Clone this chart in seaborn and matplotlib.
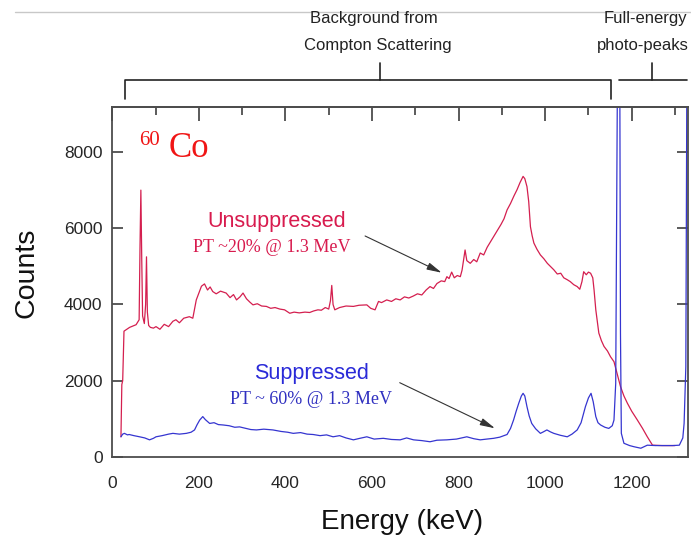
import numpy as np
import pandas as pd
import matplotlib
matplotlib.use("Agg")
import matplotlib.pyplot as plt
from matplotlib.ticker import MultipleLocator
from matplotlib.lines import Line2D
import seaborn as sns

sns.set_style("white")
plt.rcParams['font.family'] = ['Liberation Sans', 'DejaVu Sans']

# Unsuppressed spectrum (energy in keV, counts)
energy_unsup = [20, 22, 24, 27, 40, 55, 62, 64, 66, 68, 70, 74, 77, 79, 81, 84, 88, 95,
                101, 110, 120, 130, 140, 147, 155, 165, 178, 186, 194, 200, 206, 213, 220,
                226, 232, 240, 250, 263, 272, 280, 287, 295, 302, 310, 318, 325, 335, 345,
                356, 366, 376, 387, 398, 410, 420, 432, 445, 456, 465, 475, 483, 492, 500,
                504, 507, 510, 514, 525, 540, 557, 570, 588, 597, 607, 615, 622, 634, 645,
                655, 665, 675, 685, 695, 705, 715, 725, 734, 742, 750, 760, 768, 773, 778,
                784, 790, 797, 804, 808, 812, 815, 819, 827, 835, 842, 850, 858, 866, 874,
                881, 890, 898, 905, 912, 920, 928, 935, 942, 949, 953, 958, 962, 966, 970,
                974, 981, 989, 997, 1005, 1012, 1020, 1028, 1036, 1043, 1051, 1058, 1066,
                1074, 1080, 1085, 1089, 1095, 1100, 1105, 1110, 1113, 1117, 1124, 1130,
                1136, 1144, 1151, 1159, 1174, 1182, 1190, 1200, 1213, 1225, 1236, 1242,
                1248, 1270, 1300]
counts_unsup = [530, 1900, 2000, 3300, 3400, 3470, 3600, 5500, 7000, 5200, 3700, 3500, 4000,
                5250, 3800, 3450, 3400, 3380, 3420, 3350, 3480, 3420, 3560, 3600, 3520, 3640,
                3680, 3640, 4120, 4300, 4480, 4540, 4380, 4460, 4340, 4280, 4350, 4300, 4180,
                4260, 4120, 4200, 4300, 4150, 4060, 3990, 4020, 3960, 3950, 3900, 3920, 3880,
                3860, 3770, 3800, 3780, 3800, 3790, 3830, 3860, 3850, 3920, 3880, 4100, 4500,
                4000, 3860, 3920, 3960, 3950, 3980, 3990, 3900, 3860, 4080, 4050, 4120, 4080,
                4150, 4120, 4200, 4170, 4220, 4280, 4250, 4380, 4470, 4420, 4550, 4620, 4600,
                4730, 4680, 4850, 4700, 4760, 4730, 4900, 5200, 5430, 5150, 5080, 5180, 5120,
                5350, 5300, 5500, 5650, 5780, 5950, 6100, 6250, 6480, 6650, 6850, 7010, 7200,
                7360, 7300, 7090, 6700, 6040, 5800, 5610, 5450, 5300, 5200, 5080, 5000, 4910,
                4800, 4820, 4700, 4650, 4600, 4520, 4470, 4400, 4600, 4860, 4780, 4850, 4820,
                4700, 4380, 3860, 3250, 3050, 2900, 2780, 2630, 2500, 1850, 1600, 1410, 1200,
                970, 750, 530, 420, 310, 300, 300]

# Suppressed spectrum
energy_sup = [20, 24, 28, 35, 39, 50, 63, 75, 86, 95, 101, 115, 130, 140, 155, 171, 182, 190,
              196, 202, 209, 215, 225, 235, 245, 256, 270, 283, 294, 305, 320, 333, 350, 371,
              390, 405, 418, 435, 450, 464, 480, 495, 510, 525, 540, 557, 572, 588, 605, 626,
              645, 665, 680, 696, 715, 734, 750, 773, 795, 819, 835, 850, 865, 881, 895, 912,
              920, 927, 933, 939, 945, 949, 953, 958, 963, 969, 978, 989, 996, 1004, 1012,
              1020, 1035, 1051, 1062, 1074, 1083, 1093, 1100, 1106, 1111, 1117, 1122, 1128,
              1138, 1147, 1155, 1159, 1163, 1166, 1168, 1172, 1174, 1176, 1182, 1195, 1205,
              1221, 1236, 1255, 1275, 1295, 1310, 1318, 1321, 1325, 1328, 1335]
counts_sup = [530, 600, 620, 580, 590, 560, 530, 500, 450, 490, 530, 560, 600, 620, 600, 620,
              650, 710, 850, 970, 1060, 980, 880, 900, 850, 840, 820, 780, 790, 760, 720, 710,
              730, 710, 670, 650, 620, 640, 600, 590, 560, 580, 530, 560, 500, 450, 490, 530,
              470, 490, 460, 450, 500, 450, 430, 400, 440, 450, 470, 530, 480, 450, 470, 490,
              520, 590, 750, 970, 1200, 1410, 1600, 1670, 1600, 1320, 1080, 880, 740, 620, 660,
              710, 660, 620, 570, 530, 600, 710, 900, 1320, 1550, 1670, 1450, 1060, 900, 840,
              780, 750, 820, 970, 1930, 8060, 12000, 12000, 3250, 620, 360, 300, 270, 230, 310,
              300, 300, 300, 310, 500, 880, 2370, 12000, 12000]

x_major = [0, 200, 400, 600, 800, 1000, 1200]
y_major = [0, 2000, 4000, 6000, 8000]

red_line = '#d41f4f'
blue_line = '#3535d0'
spine_col = '#4d4d4d'

fig = plt.figure(figsize=(6.91, 5.38), dpi=100)
ax = fig.add_axes([112.3 / 691, 1 - 457 / 538, (688 - 112.3) / 691, (457 - 107) / 538])

sns.lineplot(x=energy_unsup, y=counts_unsup, ax=ax, color=red_line, lw=0.9,
             estimator=None, sort=False)
sns.lineplot(x=energy_sup, y=counts_sup, ax=ax, color=blue_line, lw=0.9,
             estimator=None, sort=False)

ax.set_xlim(0, 1330)
ax.set_ylim(0, 9180)
ax.set_xlabel('')
ax.set_ylabel('')

for s in ax.spines.values():
    s.set_color(spine_col)
    s.set_linewidth(1.3)

ax.set_xticks(x_major)
ax.set_xticklabels([str(v) for v in x_major])
ax.xaxis.set_minor_locator(MultipleLocator(100))
ax.set_yticks(y_major)
ax.set_yticklabels([str(v) for v in y_major])
ax.tick_params(axis='x', which='major', direction='out', length=10, width=1.3,
               color=spine_col, labelsize=12.5, pad=4)
ax.tick_params(axis='x', which='minor', direction='out', length=6, width=1.3, color=spine_col)
ax.tick_params(axis='y', which='major', direction='in', length=8, width=1.3, left=True,
               right=True, color=spine_col, labelsize=12.5, pad=7)

sec = ax.secondary_xaxis('top')
sec.set_xticks(x_major)
sec.xaxis.set_minor_locator(MultipleLocator(100))
sec.tick_params(which='major', direction='in', length=10, width=1.3, color=spine_col,
                labeltop=False)
sec.tick_params(which='minor', direction='in', length=6, width=1.3, color=spine_col)
sec.spines['top'].set_color(spine_col)
sec.spines['top'].set_linewidth(1.3)

# axis titles
fig.text(27 / 691, 1 - 273 / 538, 'Counts', rotation=90, ha='center', va='center',
         fontsize=20.5, color='#111111')
fig.text(402 / 691, 1 - 522 / 538, 'Energy (keV)', ha='center', va='center',
         fontsize=20, color='#111111')

# isotope tag
ax.text(62, 8184, '60', color='#f01515', fontsize=15, ha='left', va='baseline',
        family='Liberation Serif')
ax.text(129, 7869, 'Co', color='#f01515', fontsize=25, ha='left', va='baseline',
        family='Liberation Serif')

# series labels
ax.text(379, 6164, 'Unsuppressed', color='#d81b4e', fontsize=15.5, ha='center', va='center')
ax.text(369, 5508, 'PT ~20% @ 1.3 MeV', color='#d81b4e', fontsize=13, ha='center',
        va='center', family='Liberation Serif')
ax.text(461, 2177, 'Suppressed', color='#2a2ad8', fontsize=15.5, ha='center', va='center')
ax.text(459, 1521, 'PT ~ 60% @ 1.3 MeV', color='#3030c0', fontsize=13, ha='center',
        va='center', family='Liberation Serif')

arrow_style = dict(arrowstyle='-|>,head_length=0.9,head_width=0.22', color='#333333',
                   lw=0.8, shrinkA=0, shrinkB=0)
ax.annotate('', xy=(761, 4834), xytext=(584, 5797), arrowprops=arrow_style)
ax.annotate('', xy=(884, 753), xytext=(664, 1949), arrowprops=arrow_style)

# region brackets above the plot (figure pixel coords)
def fx(px):
    return px / 691

def fy(py):
    return 1 - py / 538

fig.add_artist(Line2D([fx(15), fx(691)], [fy(12), fy(12)], color='#c8c8c8', lw=1))
fig.add_artist(Line2D([fx(125), fx(125), fx(611), fx(611)], [fy(99), fy(80), fy(80), fy(99)],
                      color='#222222', lw=1.2))
fig.add_artist(Line2D([fx(380), fx(380)], [fy(80), fy(63)], color='#222222', lw=1.2))
fig.add_artist(Line2D([fx(619), fx(687)], [fy(80), fy(80)], color='#222222', lw=1.2))
fig.add_artist(Line2D([fx(652), fx(652)], [fy(80), fy(63)], color='#222222', lw=1.2))

fig.text(fx(374), fy(19), 'Background from', ha='center', va='center', fontsize=12,
         color='#222222')
fig.text(fx(378), fy(46), 'Compton Scattering', ha='center', va='center', fontsize=12,
         color='#222222')
fig.text(fx(645), fy(19), 'Full-energy', ha='center', va='center', fontsize=12,
         color='#222222')
fig.text(fx(643), fy(46), 'photo-peaks', ha='center', va='center', fontsize=12,
         color='#222222')

fig.savefig('out.png', dpi=100, facecolor='white')
